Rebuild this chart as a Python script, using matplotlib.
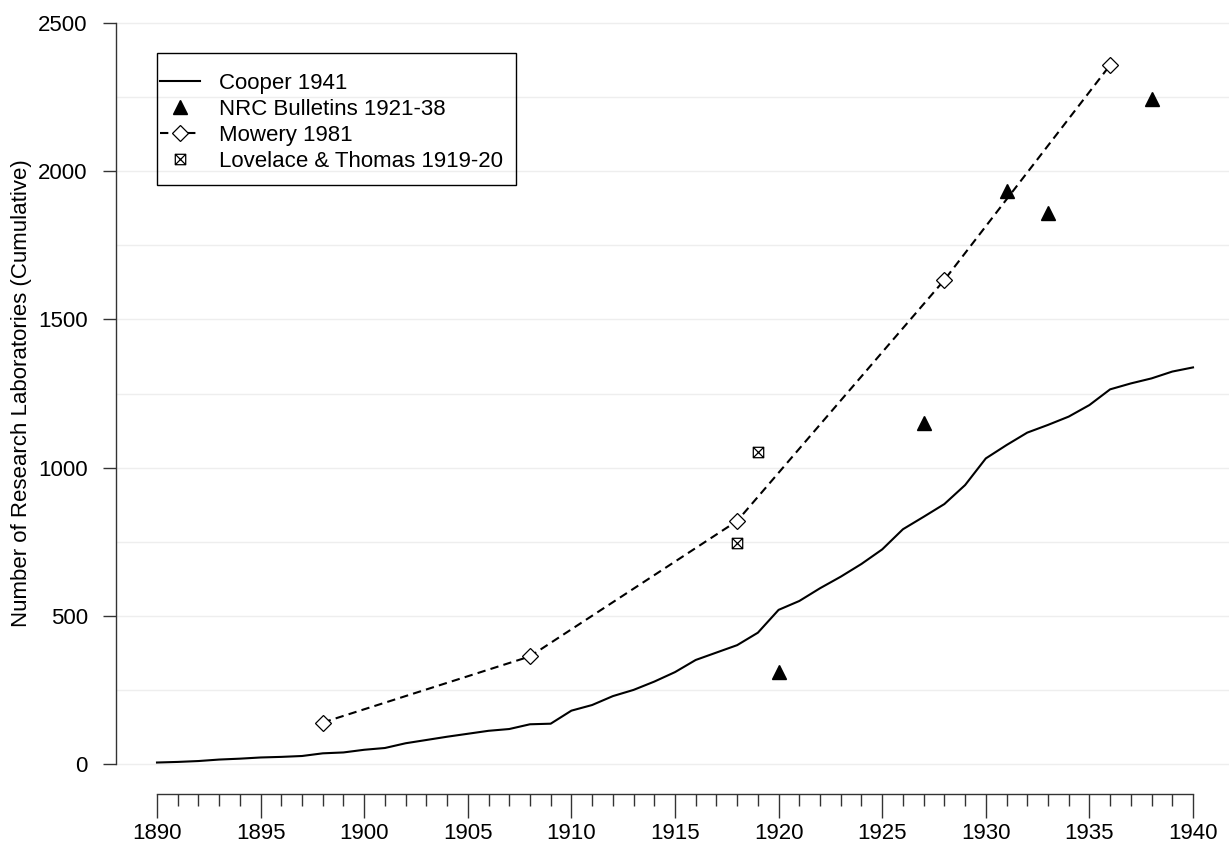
import matplotlib
matplotlib.use("Agg")
import matplotlib.pyplot as plt
from matplotlib.path import Path
from matplotlib.patches import Rectangle
from matplotlib.ticker import MultipleLocator

plt.rcParams['font.family'] = ['Liberation Sans', 'DejaVu Sans']

# Cooper 1941, yearly
cooper_years = list(range(1890, 1941))
cooper_labs = [5, 7, 10, 15, 18, 22, 24, 27, 36, 39,
               48, 54, 70, 81, 92, 102, 112, 118, 134, 136,
               180, 199, 229, 250, 278, 310, 351, 376, 401, 443,
               520, 550, 593, 632, 675, 724, 792, 834, 877, 941,
               1031, 1076, 1118, 1144, 1172, 1211, 1264, 1284, 1301, 1324,
               1338]

# NRC Bulletins 1921-38
nrc_years = [1920, 1927, 1931, 1933, 1938]
nrc_labs = [311, 1152, 1934, 1860, 2242]

# Mowery 1981
mowery_years = [1898, 1908, 1918, 1928, 1936]
mowery_labs = [140, 363, 820, 1633, 2358]

# Lovelace & Thomas 1919-20
lt_years = [1918, 1919]
lt_labs = [747, 1054]

# square with an X inside (like R pch 7)
box_x = Path([(-1, -1), (1, -1), (1, 1), (-1, 1), (-1, -1),
              (-1, -1), (1, 1), (-1, 1), (1, -1)],
             [Path.MOVETO, Path.LINETO, Path.LINETO, Path.LINETO, Path.CLOSEPOLY,
              Path.MOVETO, Path.LINETO, Path.MOVETO, Path.LINETO])

W, H = 1229, 843
fs = 16
fig = plt.figure(figsize=(W / 100, H / 100), dpi=100)
# plot region: x 1888..1942, y -100..2600 (R style 4% padding)
ax = fig.add_axes([115.56 / W, (H - 793.64) / H, 1118.88 / W, 800.28 / H])
ax.set_xlim(1888, 1942)
ax.set_ylim(-100, 2600)

for g in range(0, 2501, 250):
    ax.axhline(g, color='#eeeeee', lw=1.0, zorder=0)

ax.plot(cooper_years, cooper_labs, color='black', lw=1.5, label='Cooper 1941')
ax.plot(nrc_years, nrc_labs, linestyle='none', marker='^', ms=9.5,
        color='black', label='NRC Bulletins 1921-38')
ax.plot(mowery_years, mowery_labs, color='black', lw=1.5, dashes=(4, 2.5),
        marker='D', ms=7.8, mfc='white', mec='black', mew=0.9, label='Mowery 1981')
ax.plot(lt_years, lt_labs, linestyle='none', marker=box_x, ms=7.5,
        mfc='none', mec='black', mew=0.9, label='Lovelace & Thomas 1919-20')

for s in ['top', 'right']:
    ax.spines[s].set_visible(False)
ax.spines['left'].set_bounds(0, 2500)
ax.spines['bottom'].set_bounds(1890, 1940)
ax.spines['left'].set_color('#333333')
ax.spines['bottom'].set_color('#333333')
ax.spines['left'].set_linewidth(1.0)
ax.spines['bottom'].set_linewidth(1.0)

ax.set_yticks(range(0, 2501, 500))
ax.xaxis.set_major_locator(MultipleLocator(5))
ax.xaxis.set_minor_locator(MultipleLocator(1))
ax.set_xticks(range(1890, 1941, 5))
ax.set_xticks(range(1890, 1941), minor=True)
ax.tick_params(axis='y', length=9.4, width=1.0, pad=10.6, labelsize=fs,
               color='#333333', labelcolor='black')
ax.tick_params(axis='x', which='major', length=17.3, width=1.0, pad=4.0,
               labelsize=fs, color='#333333', labelcolor='black')
ax.tick_params(axis='x', which='minor', length=8.6, width=1.0, color='#333333')

fig.text(22 / W, (H - 393.5) / H, 'Number of Research Laboratories (Cumulative)',
         rotation=90, ha='center', va='center', fontsize=fs)

# legend box
fig.patches.append(Rectangle((157 / W, (H - 185) / H), 359 / W, 132 / H,
                             transform=fig.transFigure, fill=False,
                             edgecolor='black', lw=1.0))
leg = ax.legend(loc='upper left', bbox_to_anchor=(160 / W, (H - 73) / H),
                bbox_transform=fig.transFigure, frameon=False, fontsize=fs,
                handlelength=1.8, handletextpad=0.85, labelspacing=0.22,
                borderpad=0, borderaxespad=0, numpoints=1)

fig.savefig('out.png', dpi=100)
